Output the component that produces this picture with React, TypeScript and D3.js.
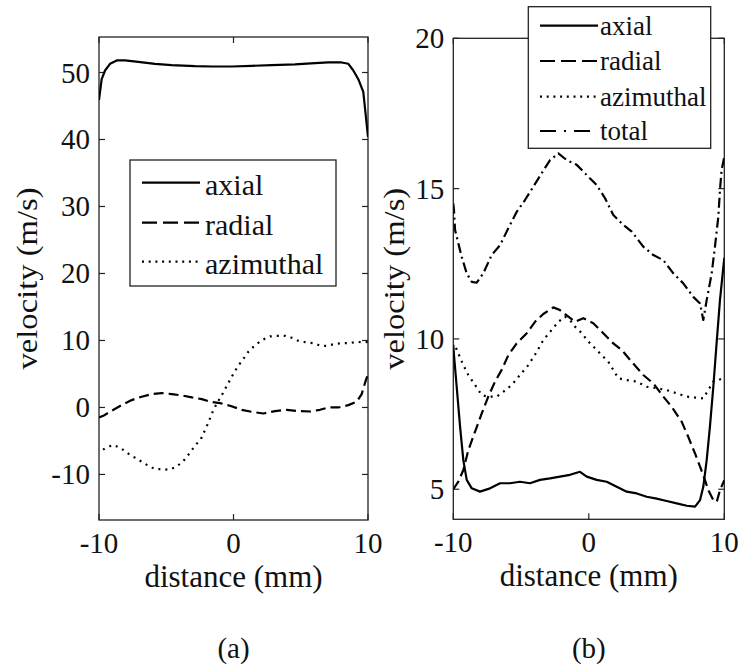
import React from "react";
import * as d3 from "d3";

// ---- panel (a): velocity components across the pipe ----
const aAxialX = [-10, -9.8, -9.55, -9.18, -8.68, -8.07, -7.08, -5.84, -4.6, -2.86, -1.62, -0.13, 1.35, 2.84, 4.57, 6.06, 7.05, 8.04, 8.54, 8.91, 9.28, 9.65, 10];
const aAxialV = [45.9, 49.0, 50.3, 51.3, 51.8, 51.8, 51.6, 51.3, 51.1, 50.95, 50.9, 50.9, 51.0, 51.1, 51.2, 51.4, 51.5, 51.5, 51.3, 50.3, 49.0, 47.1, 40.4];

const aRadialX = [-10, -9.68, -9.06, -8.31, -7.57, -6.83, -6.08, -5.34, -4.59, -3.85, -3.1, -2.36, -1.75, -1.0, -0.26, 0.61, 1.35, 2.22, 3.09, 3.96, 4.82, 5.69, 6.43, 7.05, 7.79, 8.54, 9.16, 9.53, 9.83, 10];
const aRadialV = [-1.5, -1.25, -0.5, 0.35, 1.1, 1.6, 2.0, 2.15, 2.0, 1.8, 1.5, 1.25, 0.85, 0.65, 0.25, -0.35, -0.65, -0.9, -0.55, -0.35, -0.55, -0.6, -0.35, 0, 0, 0.35, 0.85, 2.0, 4.0, 5.0];

const aAzimX = [-9.7, -9.55, -8.94, -8.36, -7.82, -7.32, -6.83, -6.33, -5.84, -5.34, -4.85, -4.27, -3.73, -3.29, -2.86, -2.42, -1.92, -1.5, -1.18, -0.88, -0.56, -0.13, 0.31, 0.68, 1.1, 1.6, 2.17, 2.71, 3.33, 3.83, 4.33, 4.87, 5.44, 5.93, 6.5, 6.97, 7.55, 8.09, 8.66, 9.16, 9.72, 10];
const aAzimV = [-6.3, -6.1, -5.6, -6.1, -6.9, -7.5, -8.1, -8.7, -9.2, -9.2, -9.3, -8.9, -8.0, -6.9, -5.7, -4.7, -2.5, -0.4, 0.8, 1.8, 3.0, 4.6, 6.1, 7.1, 8.3, 9.3, 10.1, 10.6, 10.7, 10.7, 10.4, 9.9, 9.7, 9.6, 9.2, 9.2, 9.5, 9.6, 9.6, 9.8, 9.7, 9.8];

// ---- panel (b): fluctuating velocity components ----
const bAxialX = [-10, -9.95, -9.75, -9.5, -9.26, -9.01, -8.64, -8.03, -7.29, -6.55, -5.82, -5.08, -4.34, -3.6, -2.86, -2.13, -1.39, -0.65, -0.15, 0.58, 1.32, 2.06, 2.8, 3.54, 4.27, 5.01, 5.75, 6.49, 7.23, 7.84, 8.21, 8.45, 8.7, 8.94, 9.19, 9.43, 9.68, 10];
const bAxialV = [9.8, 9.46, 8.41, 7.08, 5.97, 5.31, 5.03, 4.92, 5.03, 5.2, 5.2, 5.25, 5.2, 5.31, 5.36, 5.42, 5.48, 5.58, 5.42, 5.31, 5.25, 5.08, 4.92, 4.86, 4.75, 4.69, 4.61, 4.53, 4.45, 4.42, 4.64, 5.08, 5.97, 7.08, 8.41, 9.85, 11.29, 12.7];

const bRadialX = [-10, -9.63, -9.26, -8.89, -8.4, -7.9, -7.42, -6.92, -6.43, -5.94, -5.32, -4.58, -3.97, -3.36, -2.62, -2.13, -1.51, -1.02, -0.41, 0.33, 1.07, 1.81, 2.43, 3.17, 4.02, 4.76, 5.5, 6.12, 6.86, 7.34, 7.84, 8.21, 8.58, 8.82, 9.19, 9.44, 9.68, 10];
const bRadialV = [5.0, 5.25, 5.64, 6.3, 6.91, 7.52, 8.08, 8.58, 8.97, 9.46, 9.85, 10.19, 10.57, 10.83, 11.05, 10.96, 10.74, 10.57, 10.69, 10.52, 10.19, 9.85, 9.63, 9.24, 8.8, 8.52, 8.08, 7.74, 7.24, 6.74, 6.19, 5.75, 5.3, 4.97, 4.64, 4.58, 4.97, 5.3];

const bAzimX = [-9.8, -9.63, -9.26, -8.89, -8.4, -7.9, -7.42, -6.8, -6.31, -5.69, -5.08, -4.46, -3.84, -3.36, -2.74, -2.25, -1.76, -1.39, -1.02, -0.52, -0.03, 0.46, 0.95, 1.44, 1.81, 2.18, 2.8, 3.54, 4.27, 5.01, 5.75, 6.49, 7.23, 7.84, 8.45, 8.82, 9.19, 10];
const bAzimV = [9.7, 9.52, 9.13, 8.8, 8.47, 8.13, 8.08, 8.08, 8.24, 8.47, 8.8, 9.13, 9.57, 9.96, 10.3, 10.57, 10.74, 10.63, 10.41, 10.19, 9.91, 9.69, 9.46, 9.24, 8.97, 8.69, 8.63, 8.58, 8.41, 8.36, 8.3, 8.19, 8.08, 8.05, 8.02, 8.3, 8.58, 8.7];

const bTotalX = [-10, -9.95, -9.87, -9.63, -9.38, -9.01, -8.64, -8.27, -7.79, -7.17, -6.55, -5.94, -5.32, -4.71, -4.1, -3.48, -2.86, -2.25, -1.63, -0.89, -0.15, 0.58, 1.2, 1.81, 2.55, 3.17, 4.02, 4.76, 5.5, 6.24, 6.97, 7.71, 8.21, 8.45, 8.7, 9.07, 9.31, 9.56, 9.68, 9.8, 10];
const bTotalV = [14.5, 14.29, 13.62, 13.18, 12.73, 12.18, 11.9, 11.87, 12.18, 12.79, 13.12, 13.68, 14.23, 14.62, 15.06, 15.51, 15.95, 16.17, 15.95, 15.79, 15.45, 15.12, 14.68, 14.12, 13.79, 13.57, 13.07, 12.79, 12.62, 12.18, 11.85, 11.4, 11.18, 10.63, 11.29, 12.18, 13.07, 14.07, 14.95, 15.62, 16.06];

const xTicks = [-10, 0, 10];
const aYTicks = [-10, 0, 10, 20, 30, 40, 50];
const bYTicks = [5, 10, 15, 20];
const aLegend = ["axial", "radial", "azimuthal"];
const bLegend = ["axial", "radial", "azimuthal", "total"];

const FONT = "Liberation Serif";
// dash patterns for the curves and for the legend samples
const DASH: Record<string, string | undefined> = {
  axial: undefined,
  radial: "10,5",
  azimuthal: "2,5",
  total: "10,4,2,4",
};
const LEGEND_DASH: Record<string, string | undefined> = {
  axial: undefined,
  radial: "15,6",
  azimuthal: "2,4.7",
  total: "16,8,2,8",
};

type Series = { name: string; xs: number[]; vs: number[] };

function T(props: { x?: number; y?: number; size: number; anchor?: string; transform?: string; len?: number; children: React.ReactNode }) {
  return (
    <text x={props.x} y={props.y} transform={props.transform} textAnchor={props.anchor || "start"}
      fill="#111" fontSize={props.size} style={{ fontFamily: FONT }}
      textLength={props.len} lengthAdjust={props.len ? "spacingAndGlyphs" : undefined}>
      {props.children}
    </text>
  );
}

function Panel(props: {
  id: string;
  left: number; right: number; top: number; bottom: number;
  yDomain: [number, number];
  yTicks: number[];
  series: Series[];
  legendNames: string[];
  legendBox: { x0: number; y0: number; x1: number; y1: number; rowY: number[]; lineX0: number; lineX1: number; textX: number; fs: number; base: number };
  yLabelX: number;
  caption: string;
}) {
  const { id, left, right, top, bottom, yDomain, yTicks, series, legendNames, legendBox: lb } = props;
  const x = d3.scaleLinear().domain([-10, 10]).range([left, right]);
  const y = d3.scaleLinear().domain(yDomain).range([bottom, top]);
  const tick = 6;
  const cx = (left + right) / 2;
  const cy = (top + bottom) / 2;
  const lineGen = (s: Series) =>
    d3.line<number>().x((_, i) => x(s.xs[i])).y((v) => y(v))(s.vs) || "";

  return (
    <g>
      <defs>
        <clipPath id={id}>
          <rect x={left} y={top} width={right - left} height={bottom - top} />
        </clipPath>
      </defs>
      <rect x={left} y={top} width={right - left} height={bottom - top} fill="#fff" stroke="#222" strokeWidth={1.3} />
      {/* ticks on all four sides, pointing inward */}
      {xTicks.map((t) => (
        <g key={"xt" + t}>
          <line x1={x(t)} x2={x(t)} y1={bottom} y2={bottom - tick} stroke="#222" strokeWidth={1.2} />
          <line x1={x(t)} x2={x(t)} y1={top} y2={top + tick} stroke="#222" strokeWidth={1.2} />
          <T x={x(t)} y={bottom + 33} size={29} anchor="middle">{String(t)}</T>
        </g>
      ))}
      {yTicks.map((t) => (
        <g key={"yt" + t}>
          <line x1={left} x2={left + tick} y1={y(t)} y2={y(t)} stroke="#222" strokeWidth={1.2} />
          <line x1={right} x2={right - tick} y1={y(t)} y2={y(t)} stroke="#222" strokeWidth={1.2} />
          <T x={left - 9} y={y(t) + 10} size={29} anchor="end">{String(t)}</T>
        </g>
      ))}
      <g clipPath={`url(#${id})`}>
        {series.map((s) => (
          <path key={s.name} d={lineGen(s)} fill="none" stroke="#000" strokeWidth={2.2}
            strokeDasharray={DASH[s.name]} strokeLinejoin="round" />
        ))}
      </g>
      {/* legend */}
      <rect x={lb.x0} y={lb.y0} width={lb.x1 - lb.x0} height={lb.y1 - lb.y0} fill="#fff" stroke="#222" strokeWidth={1.3} />
      {legendNames.map((n, i) => (
        <g key={"lg" + n}>
          <line x1={lb.lineX0} x2={lb.lineX1} y1={lb.rowY[i]} y2={lb.rowY[i]} stroke="#000" strokeWidth={2.2}
            strokeDasharray={LEGEND_DASH[n]} />
          <T x={lb.textX} y={lb.rowY[i] + lb.base} size={lb.fs}>{n}</T>
        </g>
      ))}
      <T x={cx} y={bottom + 67} size={31} anchor="middle">distance (mm)</T>
      <T transform={`translate(${props.yLabelX},${cy}) rotate(-90)`} size={30} anchor="middle" len={182}>velocity (m/s)</T>
      <T x={cx} y={658} size={29} anchor="middle">{props.caption}</T>
    </g>
  );
}

export default function App() {
  const seriesA: Series[] = [
    { name: "azimuthal", xs: aAzimX, vs: aAzimV },
    { name: "radial", xs: aRadialX, vs: aRadialV },
    { name: "axial", xs: aAxialX, vs: aAxialV },
  ];
  const seriesB: Series[] = [
    { name: "azimuthal", xs: bAzimX, vs: bAzimV },
    { name: "radial", xs: bRadialX, vs: bRadialV },
    { name: "total", xs: bTotalX, vs: bTotalV },
    { name: "axial", xs: bAxialX, vs: bAxialV },
  ];
  return (
    <svg width={740} height={666} style={{ position: "absolute", left: 0, top: 0, background: "#fff" }}>
      <rect width={740} height={666} fill="#fff" />
      <Panel
        id="clipA"
        left={99} right={368} top={37} bottom={520}
        yDomain={[-16.8, 55.3]}
        yTicks={aYTicks}
        series={seriesA}
        legendNames={aLegend}
        legendBox={{ x0: 130, y0: 160, x1: 336, y1: 286, rowY: [182.7, 222.7, 261.7], lineX0: 142, lineX1: 200, textX: 205, fs: 30, base: 12 }}
        yLabelX={37}
        caption="(a)"
      />
      <Panel
        id="clipB"
        left={453.3} right={724.3} top={38.3} bottom={519.3}
        yDomain={[4, 20]}
        yTicks={bYTicks}
        series={seriesB}
        legendNames={bLegend}
        legendBox={{ x0: 528.3, y0: 6.7, x1: 710.7, y1: 148.3, rowY: [25.7, 61, 96.7, 131], lineX0: 540, lineX1: 598, textX: 600, fs: 27, base: 9 }}
        yLabelX={403.5}
        caption="(b)"
      />
    </svg>
  );
}
